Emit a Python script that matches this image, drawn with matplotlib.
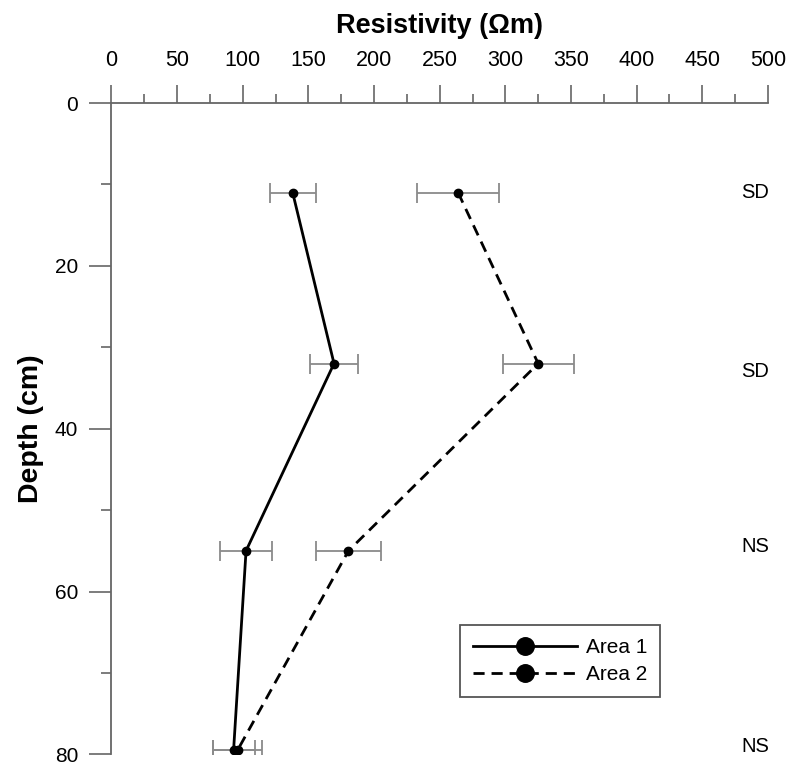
import matplotlib
matplotlib.use("Agg")
import matplotlib.pyplot as plt
from matplotlib.ticker import MultipleLocator

plt.rcParams['font.family'] = ['Liberation Sans', 'DejaVu Sans']

depth = [11, 32, 55, 79.5]
area1 = [138, 169.5, 102.5, 93]
area1_err = [17.5, 18.5, 19.5, 16]
area2 = [264, 325, 180.5, 96]
area2_err = [31, 27, 25, 19]
sig_labels = ["SD", "SD", "NS", "NS"]
sig_depth = [11, 33, 54.5, 79]

fig = plt.figure(figsize=(7.9, 7.67), dpi=100)
ax = fig.add_axes([0.1411, 0.0165, 0.8310, 0.8492])

ax.errorbar(area1, depth, xerr=area1_err, fmt='none', ecolor='#8a8a8a',
            elinewidth=1.3, capsize=7.5, capthick=1.3, zorder=2)
ax.errorbar(area2, depth, xerr=area2_err, fmt='none', ecolor='#8a8a8a',
            elinewidth=1.3, capsize=7.5, capthick=1.3, zorder=2)
ax.plot(area1, depth, color='black', lw=2, ls='-', marker='o', ms=6, zorder=3,
        label='Area 1')
ax.plot(area2, depth, color='black', lw=2, ls=(0, (4, 2.5)), marker='o', ms=6,
        zorder=3, label='Area 2')

for lab, d in zip(sig_labels, sig_depth):
    ax.text(490, d, lab, ha='center', va='center', fontsize=14.5)

ax.set_xlim(0, 500)
ax.set_ylim(80, 0)
ax.xaxis.tick_top()
ax.xaxis.set_label_position('top')
ax.xaxis.set_major_locator(MultipleLocator(50))
ax.xaxis.set_minor_locator(MultipleLocator(25))
ax.yaxis.set_major_locator(MultipleLocator(20))
ax.yaxis.set_minor_locator(MultipleLocator(10))
ax.tick_params(axis='x', which='major', direction='out', length=13, width=1.2,
               color='#666666', labelsize=15.5, pad=10)
ax.tick_params(axis='x', which='minor', direction='out', length=6.5, width=1.2,
               color='#666666')
ax.tick_params(axis='y', which='major', direction='out', length=16, width=1.2,
               color='#666666', labelsize=15, pad=8)
ax.tick_params(axis='y', which='minor', direction='out', length=7, width=1.2,
               color='#666666')
for s in ['right', 'bottom']:
    ax.spines[s].set_visible(False)
for s in ['top', 'left']:
    ax.spines[s].set_color('#666666')
    ax.spines[s].set_linewidth(1.3)

ax.set_xlabel('Resistivity (\u03a9m)', fontsize=19.5, fontweight='bold', labelpad=12.5)
ax.set_ylabel('Depth (cm)', fontsize=20.5, fontweight='bold', labelpad=8)

leg = ax.legend(loc='upper left', bbox_to_anchor=(0.531, 0.198),
                borderaxespad=0, fontsize=15, markerscale=2.1,
                handlelength=5.0, handletextpad=0.45,
                fancybox=False, edgecolor='#555555', framealpha=1,
                borderpad=0.6, labelspacing=0.4)
leg.get_frame().set_linewidth(1.3)

fig.savefig('out.png', dpi=100)
